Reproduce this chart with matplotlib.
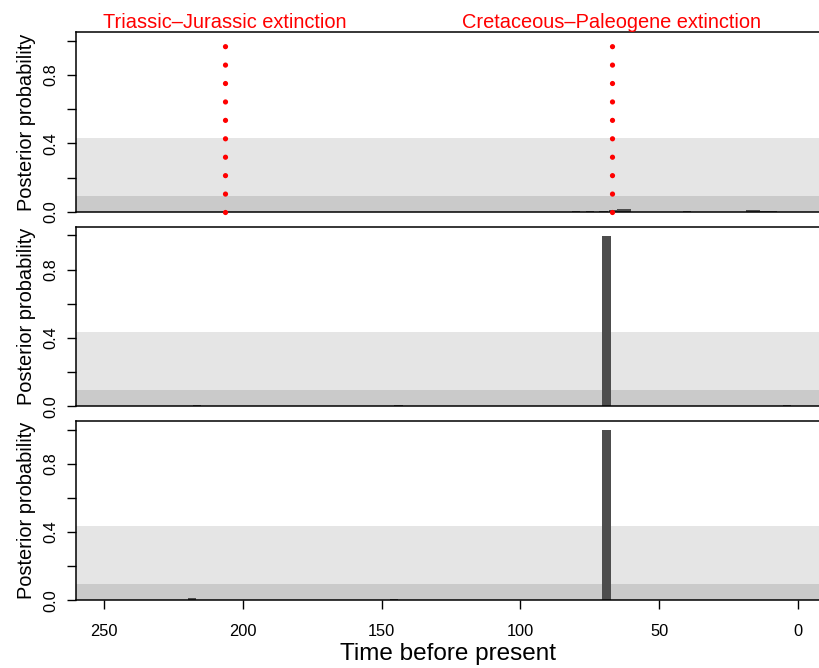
import matplotlib
matplotlib.use("Agg")
import matplotlib.pyplot as plt

plt.rcParams["font.family"] = ["Liberation Sans", "DejaVu Sans"]

# posterior probability of a mass extinction, per time bin (millions of years ago)
times_top = [80, 75, 70, 66.5, 63.5, 61.5, 40, 17, 15, 12, 9]
probs_top = [0.002, 0.003, 0.004, 0.012, 0.016, 0.018, 0.003, 0.008, 0.010, 0.006, 0.005]

times_mid = [245, 216.5, 144, 100, 69, 55, 4]
probs_mid = [0.003, 0.008, 0.008, 0.002, 0.995, 0.002, 0.005]

times_bot = [244, 218.5, 145.5, 69, 3]
probs_bot = [0.004, 0.012, 0.007, 1.0, 0.003]

event_times = [206.5, 67]
event_names = ["Triassic\u2013Jurassic extinction", "Cretaceous\u2013Paleogene extinction"]

band_low = 0.094
band_high = 0.433

y_ticks = [0.0, 0.2, 0.4, 0.6, 0.8, 1.0]
y_labels = ["0.0", "", "0.4", "", "0.8", ""]
x_ticks = [250, 200, 150, 100, 50, 0]


def draw_panel(ax, times, probs):
    ax.axhspan(band_low, band_high, color="#E5E5E5", lw=0, zorder=0)
    ax.axhspan(0, band_low, color="#CACACA", lw=0, zorder=0)
    ax.bar(times, probs, width=3, color="#4D4D4D", lw=0, zorder=2)

    ax.set_xlim(260.2, -8.0)
    ax.set_ylim(0, 1.05)
    ax.set_yticks(y_ticks)
    ax.set_yticklabels(y_labels, rotation=90, va="center")
    ax.set_ylabel("Posterior probability", fontsize=14.4, labelpad=5)

    ax.spines["right"].set_visible(False)
    for side in ["left", "top", "bottom"]:
        ax.spines[side].set_linewidth(1.1)
    ax.tick_params(axis="y", direction="out", length=6.8, width=1, pad=6, labelsize=11.8)
    ax.tick_params(axis="x", direction="out", length=6.8, width=1, pad=10, labelsize=11.8)


def main():
    fig = plt.figure(figsize=(8.2, 6.68), dpi=100)
    left = 76 / 820
    width = 1 - left
    tops = [32.3, 226.8, 421.0]
    height = 179.4

    axes = []
    for top in tops:
        ax = fig.add_axes([left, 1 - (top + height) / 668, width, height / 668])
        axes.append(ax)

    draw_panel(axes[0], times_top, probs_top)
    draw_panel(axes[1], times_mid, probs_mid)
    draw_panel(axes[2], times_bot, probs_bot)

    for ax in axes[:2]:
        ax.set_xticks([])
    axes[2].set_xticks(x_ticks)
    axes[2].set_xticklabels([str(t) for t in x_ticks])
    axes[2].set_xlabel("Time before present", fontsize=17.5, labelpad=3)

    # red dotted markers for the two known extinctions
    for t, name in zip(event_times, event_names):
        axes[0].plot([t, t], [0, 1], color="red", lw=3.8, clip_on=False,
                     linestyle=(0, (0.001, 3.49)), dash_capstyle="round", zorder=5)
        axes[0].text(t, 1.022, name, color="red", fontsize=14.4, ha="center",
                     va="baseline", transform=axes[0].get_xaxis_transform())

    fig.savefig("out.png", dpi=100)


if __name__ == "__main__":
    main()
